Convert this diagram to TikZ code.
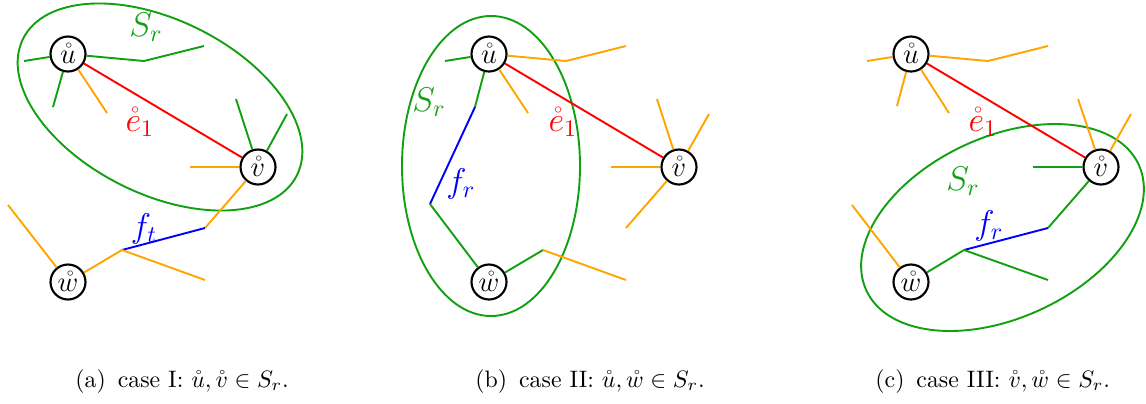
\documentclass[tikz,border=0pt]{standalone}
\usetikzlibrary{shapes.geometric}
\definecolor{gr}{RGB}{17,160,17}
\definecolor{og}{RGB}{255,165,0}
\tikzset{
  vtx/.style={circle,draw=black,line width=0.9pt,minimum size=14.7pt,inner sep=0pt,fill=white,font=\large},
  ge/.style={draw=gr,line width=0.8pt},
  oe/.style={draw=og,line width=0.8pt},
  re/.style={draw=red,line width=0.8pt},
  be/.style={draw=blue,line width=0.8pt},
  sr/.style={ellipse,draw=gr,line width=0.8pt,inner sep=0pt},
  lab/.style={inner sep=0pt,font=\Large},
  captxt/.style={anchor=base west,inner sep=0pt,font=\normalsize}
}
\begin{document}
\begin{tikzpicture}[x=0.42pt,y=-0.42pt]
\useasboundingbox (0,0) rectangle (1146,403);
% ---------- panel (a)
\begin{scope}
\node[sr,minimum width=306*0.42pt,minimum height=174*0.42pt,rotate=-26.5] (ellA) at (160,107) {};
\node[vtx] (uA) at (68,54) {$\mathring{u}$};
\node[vtx] (vA) at (258,167) {$\mathring{v}$};
\node[vtx] (wA) at (68,282) {$\mathring{w}$};
\coordinate (a1) at (24,61);
\coordinate (a2) at (144,61);
\coordinate (a3) at (204,46);
\coordinate (a4) at (53,107);
\coordinate (a5) at (107,113);
\coordinate (a6) at (236,99);
\coordinate (a7) at (287,114);
\coordinate (a8) at (190,167);
\coordinate (a9) at (205,228);
\coordinate (a10) at (122,250);
\coordinate (a11) at (205,280);
\coordinate (a12) at (8,205);
\draw[ge] (uA) -- (a1);
\draw[ge] (uA) -- (a2) -- (a3);
\draw[ge] (uA) -- (a4);
\draw[oe] (uA) -- (a5);
\draw[re] (uA) -- (vA);
\draw[ge] (vA) -- (a6);
\draw[ge] (vA) -- (a7);
\draw[oe] (vA) -- (a8);
\draw[oe] (vA) -- (a9);
\draw[be] (a9) -- (a10);
\draw[oe] (a10) -- (wA);
\draw[oe] (a10) -- (a11);
\draw[oe] (wA) -- (a12);
\node[lab,text=gr] (srA) at (146,27) {$S_r$};
\node[lab,text=red] (eA) at (140,122) {$\mathring{e}_1$};
\node[lab,text=blue] (fA) at (144,229) {$f_t$};
\end{scope}
% ---------- panel (b)
\begin{scope}[shift={(421,0)}]
\node[sr,minimum width=178*0.42pt,minimum height=300*0.42pt] (ellB) at (70,166) {};
\node[vtx] (uB) at (68,54) {$\mathring{u}$};
\node[vtx] (vB) at (258,167) {$\mathring{v}$};
\node[vtx] (wB) at (68,282) {$\mathring{w}$};
\coordinate (b1) at (24,61);
\coordinate (b2) at (145,61);
\coordinate (b3) at (205,46);
\coordinate (b4) at (54,107);
\coordinate (b5) at (107,113);
\coordinate (b6) at (236,99);
\coordinate (b7) at (288,114);
\coordinate (b8) at (190,167);
\coordinate (b9) at (205,228);
\coordinate (b10) at (122,250);
\coordinate (b11) at (205,280);
\coordinate (b12) at (9,204);
\draw[ge] (uB) -- (b1);
\draw[oe] (uB) -- (b2) -- (b3);
\draw[ge] (uB) -- (b4);
\draw[be] (b4) -- (b12);
\draw[ge] (b12) -- (wB);
\draw[oe] (uB) -- (b5);
\draw[re] (uB) -- (vB);
\draw[oe] (vB) -- (b6);
\draw[oe] (vB) -- (b7);
\draw[oe] (vB) -- (b8);
\draw[oe] (vB) -- (b9);
\draw[ge] (wB) -- (b10);
\draw[oe] (b10) -- (b11);
\node[lab,text=gr] (srB) at (8,102) {$S_r$};
\node[lab,text=red] (eB) at (142,122) {$\mathring{e}_1$};
\node[lab,text=blue] (fB) at (40,184) {$f_r$};
\end{scope}
% ---------- panel (c)
\begin{scope}[shift={(843,0)}]
\node[sr,minimum width=300*0.42pt,minimum height=181*0.42pt,rotate=24.8] (ellC) at (159.5,227.5) {};
\node[vtx] (uC) at (68,54) {$\mathring{u}$};
\node[vtx] (vC) at (258,167) {$\mathring{v}$};
\node[vtx] (wC) at (68,282) {$\mathring{w}$};
\coordinate (c1) at (24,61);
\coordinate (c2) at (145,61);
\coordinate (c3) at (205,46);
\coordinate (c4) at (54,106);
\coordinate (c5) at (106,113);
\coordinate (c6) at (235,99);
\coordinate (c7) at (288,114);
\coordinate (c8) at (190,167);
\coordinate (c9) at (205,228);
\coordinate (c10) at (121,250);
\coordinate (c11) at (205,280);
\coordinate (c12) at (9,205);
\draw[oe] (uC) -- (c1);
\draw[oe] (uC) -- (c2) -- (c3);
\draw[oe] (uC) -- (c4);
\draw[oe] (uC) -- (c5);
\draw[re] (uC) -- (vC);
\draw[oe] (vC) -- (c6);
\draw[oe] (vC) -- (c7);
\draw[ge] (vC) -- (c8);
\draw[ge] (vC) -- (c9);
\draw[be] (c9) -- (c10);
\draw[ge] (c10) -- (wC);
\draw[ge] (c10) -- (c11);
\draw[oe] (wC) -- (c12);
\node[lab,text=red] (eC) at (140,122) {$\mathring{e}_1$};
\node[lab,text=gr] (srC) at (120,181) {$S_r$};
\node[lab,text=blue] (fC) at (146,226) {$f_r$};
\end{scope}
% ---------- captions
\node[captxt] (capA) at (75,387) {(a)\enskip case I: $\mathring{u},\mathring{v}\in S_r$.};
\node[captxt] (capB) at (475,387) {(b)\enskip case II: $\mathring{u},\mathring{w}\in S_r$.};
\node[captxt] (capC) at (875,387) {(c)\enskip case III: $\mathring{v},\mathring{w}\in S_r$.};
\end{tikzpicture}
\end{document}
